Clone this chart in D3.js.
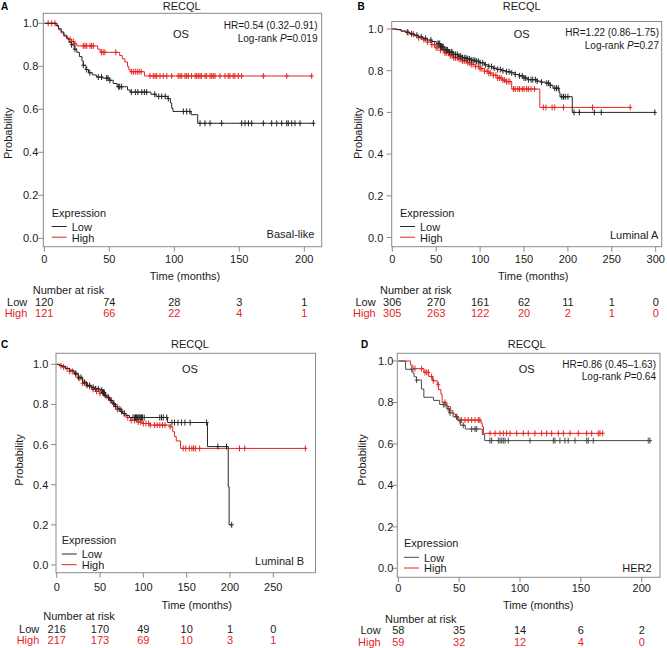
<!DOCTYPE html>
<html><head><meta charset="utf-8">
<script src="https://cdn.jsdelivr.net/npm/d3@7"></script>
<style>body{margin:0;background:#fff}svg{display:block;font-family:"Liberation Sans",Arial,sans-serif}</style>
</head><body><svg id="c" width="667" height="648"></svg>
<script>
// ---------- DATA ----------
const title = "RECQL";
const yTickLabels = ["0.0","0.2","0.4","0.6","0.8","1.0"];
const yTicks = [0,0.2,0.4,0.6,0.8,1.0];

// Panel A (Basal-like)
const aXTicks = [0,50,100,150,200];
const aLowSteps = [[0,1],[9,0.99],[11,0.975],[13,0.96],[15,0.945],[17,0.93],[19,0.91],[21,0.9],[23,0.88],[25,0.865],[27,0.845],[29,0.825],[30,0.805],[32,0.785],[34,0.77],[37,0.76],[40,0.75],[45,0.745],[50,0.735],[53,0.72],[56,0.705],[64,0.69],[66,0.68],[82,0.67],[86,0.66],[95,0.65],[97,0.63],[98,0.605],[99,0.59],[113,0.575],[118,0.535],[207,0.535]];
const aLowCensor = [21,23.6,30,32.6,35,41.5,44,48,49,50.5,57,58,59.5,67,70,72,75,77,78.7,85,88,90.3,93,95.4,107,109.5,112,119.8,123.6,127.5,136.4,151.8,154.4,157,159.5,168.5,174.9,178.8,182.6,186.5,187.7,190.3,192.8,196.7,207];
const aHighSteps = [[0,1],[10,0.985],[11,0.97],[13,0.955],[15,0.94],[18,0.925],[21,0.915],[23,0.905],[25,0.895],[41,0.88],[43,0.865],[58,0.85],[60,0.835],[62,0.82],[64,0.8],[65,0.785],[66,0.775],[77,0.755],[206,0.755]];
const aHighCensor = [3,5.7,8.2,19.8,21,22.3,23.6,30,31.3,32.6,35.2,36.4,37.7,44,45.3,46.6,55,67,68.5,70,71.5,73,74.5,81.3,83.8,85.2,86.5,89,91.5,94.2,98,103,104.4,105.7,108.2,109.5,110.8,113.3,116,117.2,118.5,119.8,121,123.6,124.9,127.5,128.8,130,131.3,135.2,139,141.5,142.8,145.3,146.6,149.2,151.8,168.5,186.5,205.7];
const aRiskLow = [120,74,28,3,1];
const aRiskHigh = [121,66,22,4,1];

// Panel B (Luminal A)
const bXTicks = [0,50,100,150,200,250,300];
const bLowSteps = [[0,1],[5,0.997],[10,0.99],[15,0.985],[20,0.977],[25,0.97],[30,0.962],[35,0.955],[40,0.947],[45,0.94],[50,0.93],[55,0.915],[60,0.9],[65,0.89],[70,0.878],[75,0.87],[80,0.862],[85,0.857],[90,0.85],[95,0.845],[100,0.838],[105,0.828],[110,0.82],[115,0.812],[120,0.806],[125,0.8],[130,0.795],[135,0.79],[140,0.782],[145,0.775],[150,0.765],[155,0.757],[165,0.75],[170,0.745],[175,0.74],[180,0.73],[183,0.716],[190,0.695],[191,0.675],[205,0.6],[300,0.6]];
const bLowCensor = [17,22,28,33,38,44,52,53,54,55,56,57,58,60,62,63,65,67,68,70,72,74,76,78,80,82,84,86,88,90,92,94,96,98,100,103,106,110,113,116,120,123,126,130,133,136,140,145,148,150,152,155,158,160,163,165,170,176,178,180,185,187,189,193,195,197,200,207,213,230,238,299];
const bHighSteps = [[0,1],[5,0.997],[10,0.99],[15,0.983],[20,0.975],[25,0.967],[30,0.958],[35,0.948],[40,0.937],[45,0.925],[50,0.91],[55,0.898],[60,0.885],[65,0.872],[70,0.862],[75,0.855],[80,0.847],[85,0.838],[90,0.83],[95,0.82],[100,0.81],[105,0.798],[110,0.788],[115,0.778],[120,0.765],[125,0.755],[130,0.748],[136,0.712],[168,0.624],[271,0.624]];
const bHighCensor = [18,24,30,36,40,45,48,50,52,55,58,60,62,64,66,68,70,72,74,76,78,80,82,84,86,88,90,92,95,98,100,102,105,108,110,112,115,118,120,122,124,126,128,130,132,134,138,140,143,145,148,150,153,155,158,162,172,175,182,185,195,228,271];
const bRiskLow = [306,270,161,62,11,1,0];
const bRiskHigh = [305,263,122,20,2,1,0];

// Panel C (Luminal B)
const cXTicks = [0,50,100,150,200,250];
const cLowSteps = [[0,1],[3,0.995],[6,0.99],[10,0.98],[15,0.97],[20,0.955],[25,0.935],[30,0.91],[35,0.895],[40,0.885],[45,0.878],[50,0.872],[53,0.86],[56,0.845],[58,0.835],[61,0.82],[64,0.805],[67,0.79],[70,0.778],[73,0.765],[76,0.755],[80,0.745],[84,0.735],[128,0.71],[174,0.59],[198,0.39],[199,0.2],[202,0.2]];
const cLowCensor = [22,25,28,32,35,38,42,45,48,52,53,54,55,56,60,63,66,68,72,75,78,88,90,91,92,93,94,95,96,97,98,99,101,119,121,123,127,133,136,140,144,148,154,173,186,196,202];
const cHighSteps = [[0,1],[3,0.993],[6,0.987],[10,0.978],[15,0.965],[20,0.95],[25,0.93],[30,0.905],[35,0.89],[40,0.875],[45,0.865],[50,0.855],[55,0.84],[60,0.82],[65,0.8],[70,0.775],[75,0.755],[80,0.735],[85,0.72],[92,0.712],[100,0.705],[108,0.697],[131,0.689],[134,0.664],[136,0.64],[138,0.618],[143,0.581],[288,0.581]];
const cHighCensor = [5,8,12,15,18,22,26,30,34,38,42,46,50,54,58,62,66,70,74,78,82,86,90,94,97,100,103,106,108,113,116,119,122,125,131,146,149,153,156,158,160,165,211,217,287];
const cRiskLow = [216,170,49,10,1,0];
const cRiskHigh = [217,173,69,10,3,1];

// Panel D (HER2)
const dXTicks = [0,50,100,150,200];
const dLowSteps = [[0,1],[6,0.96],[12,0.942],[13,0.924],[15,0.908],[19,0.865],[21,0.825],[29,0.81],[34,0.79],[40,0.77],[42,0.75],[45,0.731],[49,0.712],[51,0.69],[55,0.672],[69,0.645],[71,0.616],[208,0.616]];
const dLowCensor = [11,15,37,38.4,41,42.5,48,50.7,53.4,60.3,63,64.4,75.3,76.7,82.2,83.6,85,86.3,87.7,90.4,108.2,127.4,128.7,132.8,136.9,139.6,145.2,154.8,156.1,160.2,205.4,206.8];
const dHighSteps = [[0,1],[10,0.98],[12,0.963],[21,0.945],[25,0.925],[28,0.905],[32,0.885],[33,0.862],[35,0.84],[36,0.8],[40,0.78],[43,0.76],[45,0.745],[47,0.73],[49,0.715],[68,0.7],[69,0.683],[70,0.651],[168,0.651]];
const dHighCensor = [13.7,19.2,21.9,23.3,24.7,27.4,28.8,32.9,38.4,48,52,54.8,57.5,60.3,63,65.7,67,75.3,79.5,83.6,86.3,89,91.8,97.3,102.7,106.8,112.3,117.8,121.9,126,131.5,135.6,141.1,147.9,154.8,158.9,164.3,165.7,168];
const dRiskLow = [58,35,14,6,2];
const dRiskHigh = [59,32,12,4,0];

// ---------- LAYOUT ----------
const LOW = "#262626", HIGH = "#e3261f", FRAME = "#8a8a8a", TXT = "#1a1a1a";
const panels = [
 {letter:"A", sub:"Basal-like", hr:"HR=0.54 (0.32\u20130.91)", p:"0.019", lowCol:LOW,
  frame:[43.3,13.3,321.7,246.7], xr:[44.3,304.3], yr:[238.3,23.3], xTicks:aXTicks,
  low:aLowSteps, lowC:aLowCensor, high:aHighSteps, highC:aHighCensor, rl:aRiskLow, rh:aRiskHigh,
  letterPos:[1,9.5], titleX:181.7, titleY:9.5, osX:181, osY:37.5, hrX:317.5, hrY:29, lrY:42.3,
  ylabX:11.5, ylabY:133.3, tickLabR:38.3, legX:51.7, legY:216.5, subX:314.3, subY:238,
  xlabY:263.3, timeX:185, timeY:280.3, narX:32.7, narY:294.3, rowY:[305.5,316.7], rowLabR:27.3},
 {letter:"B", sub:"Luminal A", hr:"HR=1.22 (0.86\u20131.75)", p:"0.27", lowCol:LOW,
  frame:[391.7,21.5,661.7,246.7], xr:[392.3,655.7], yr:[237.5,29], xTicks:bXTicks,
  low:bLowSteps, lowC:bLowCensor, high:bHighSteps, highC:bHighCensor, rl:bRiskLow, rh:bRiskHigh,
  letterPos:[357.5,9.5], titleX:521.7, titleY:9.5, osX:521.7, osY:37.5, hrX:659, hrY:36.3, lrY:48.8,
  ylabX:362.3, ylabY:133.3, tickLabR:383.3, legX:400, legY:216.5, subX:658.3, subY:239,
  xlabY:263.3, timeX:533.3, timeY:280.3, narX:380, narY:293.8, rowY:[305.5,316.7], rowLabR:375.7},
 {letter:"C", sub:"Luminal B", hr:null, p:null, lowCol:LOW,
  frame:[56,353.3,315.5,572.7], xr:[56.7,273.3], yr:[565,364.3], xTicks:cXTicks,
  low:cLowSteps, lowC:cLowCensor, high:cHighSteps, highC:cHighCensor, rl:cRiskLow, rh:cRiskHigh,
  letterPos:[1,347.5], titleX:190, titleY:347.5, osX:190, osY:372.5, hrX:0, hrY:0, lrY:0,
  ylabX:23.3, ylabY:460, tickLabR:48.3, legX:61.7, legY:544, subX:304, subY:564.7,
  xlabY:590.8, timeX:196.7, timeY:609, narX:43.3, narY:620.3, rowY:[632.5,644], rowLabR:39.3},
 {letter:"D", sub:"HER2", hr:"HR=0.86 (0.45\u20131.63)", p:"0.64", lowCol:"#4a4a4a",
  frame:[397.3,353.3,660,577.3], xr:[398.3,641.7], yr:[568.3,361], xTicks:dXTicks,
  low:dLowSteps, lowC:dLowCensor, high:dHighSteps, highC:dHighCensor, rl:dRiskLow, rh:dRiskHigh,
  letterPos:[361,348], titleX:526.7, titleY:348, osX:526.7, osY:372.5, hrX:656, hrY:367.5, lrY:380,
  ylabX:365.7, ylabY:460, tickLabR:393.3, legX:404, legY:547.3, subX:651.7, subY:571.7,
  xlabY:592.3, timeX:538.3, timeY:609, narX:385, narY:622.5, rowY:[634.2,645.7], rowLabR:380.7}
];

const svg = d3.select("#c");
function survAt(steps, t){ let s=1; for(const [tt,ss] of steps){ if(tt<=t) s=ss; else break;} return s; }

panels.forEach(P=>{
  const g = svg.append("g");
  const x = d3.scaleLinear().domain([0,P.xTicks[P.xTicks.length-1]]).range(P.xr);
  const y = d3.scaleLinear().domain([0,1]).range(P.yr);
  const [fl,ft,fr,fb] = P.frame;
  g.append("rect").attr("x",fl).attr("y",ft).attr("width",fr-fl).attr("height",fb-ft)
    .attr("fill","none").attr("stroke",FRAME).attr("stroke-width",1);
  yTicks.forEach((v,i)=>{
    g.append("line").attr("x1",fl-5).attr("x2",fl).attr("y1",y(v)).attr("y2",y(v)).attr("stroke",FRAME);
    g.append("text").attr("x",P.tickLabR).attr("y",y(v)+4).attr("text-anchor","end")
      .attr("font-size",11).attr("fill",TXT).text(yTickLabels[i]);
  });
  P.xTicks.forEach(v=>{
    g.append("line").attr("x1",x(v)).attr("x2",x(v)).attr("y1",fb).attr("y2",fb+5).attr("stroke",FRAME);
    g.append("text").attr("x",x(v)).attr("y",P.xlabY).attr("text-anchor","middle")
      .attr("font-size",11).attr("fill",TXT).text(v);
  });
  g.append("text").attr("x",P.letterPos[0]).attr("y",P.letterPos[1]).attr("font-size",10).attr("font-weight","bold").attr("fill","#000").text(P.letter);
  g.append("text").attr("x",P.titleX).attr("y",P.titleY).attr("text-anchor","middle").attr("font-size",11).attr("fill",TXT).text(title);
  g.append("text").attr("x",P.osX).attr("y",P.osY).attr("text-anchor","middle").attr("font-size",11).attr("fill",TXT).text("OS");
  if(P.hr){
    g.append("text").attr("x",P.hrX).attr("y",P.hrY).attr("text-anchor","end").attr("font-size",10).attr("fill",TXT).text(P.hr);
    const t = g.append("text").attr("x",P.hrX).attr("y",P.lrY).attr("text-anchor","end").attr("font-size",10).attr("fill",TXT);
    t.append("tspan").text("Log-rank ");
    t.append("tspan").attr("font-style","italic").text("P");
    t.append("tspan").text("="+P.p);
  }
  g.append("text").attr("transform",`translate(${P.ylabX},${P.ylabY}) rotate(-90)`).attr("text-anchor","middle")
    .attr("font-size",11).attr("fill",TXT).text("Probability");
  g.append("text").attr("x",P.timeX).attr("y",P.timeY).attr("text-anchor","middle").attr("font-size",11).attr("fill",TXT).text("Time (months)");
  g.append("text").attr("x",P.subX).attr("y",P.subY).attr("text-anchor","end").attr("font-size",11).attr("fill",TXT).text(P.sub);
  g.append("text").attr("x",P.legX).attr("y",P.legY).attr("font-size",11).attr("fill",TXT).text("Expression");
  [["Low",P.lowCol,10.3],["High",HIGH,21]].forEach(([lab,col,dy])=>{
    g.append("line").attr("x1",P.legX).attr("x2",P.legX+15).attr("y1",P.legY+dy-0.3).attr("y2",P.legY+dy-0.3).attr("stroke",col).attr("stroke-width",1);
    g.append("text").attr("x",P.legX+20).attr("y",P.legY+dy+4).attr("font-size",11).attr("fill",TXT).text(lab);
  });
  const line = d3.line().x(d=>x(d[0])).y(d=>y(d[1])).curve(d3.curveStepAfter);
  const series = [[P.high,P.highC,HIGH],[P.low,P.lowC,P.lowCol]];
  series.forEach(([steps,cens,col])=>{
    g.append("path").attr("d",line(steps)).attr("fill","none").attr("stroke",col).attr("stroke-width",1);
    g.selectAll(null).data(cens).enter().append("path")
      .attr("d",t=>{const cx=x(t), cy=y(survAt(steps,t)); return `M${cx},${cy-3}V${cy+3}M${cx-2},${cy}H${cx+2}`;})
      .attr("stroke",col).attr("stroke-width",1).attr("fill","none");
  });
  g.append("text").attr("x",P.narX).attr("y",P.narY).attr("font-size",11).attr("fill",TXT).text("Number at risk");
  [[P.rl,"Low",TXT,P.rowY[0]],[P.rh,"High",HIGH,P.rowY[1]]].forEach(([vals,lab,col,yy])=>{
    g.append("text").attr("x",P.rowLabR).attr("y",yy).attr("text-anchor","end").attr("font-size",11).attr("fill",col).text(lab);
    vals.forEach((v,i)=>{
      g.append("text").attr("x",x(P.xTicks[i])).attr("y",yy).attr("text-anchor","middle").attr("font-size",11).attr("fill",col).text(v);
    });
  });
});
</script></body></html>
